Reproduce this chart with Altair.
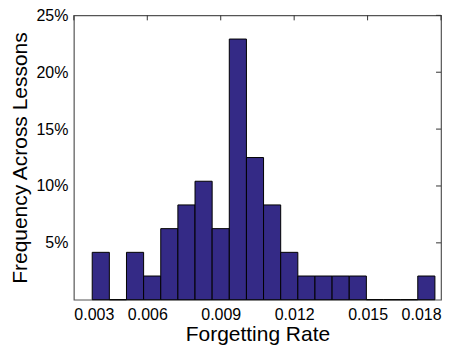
import altair as alt
import pandas as pd

# bin edges (forgetting rate) and counts of lessons per bin (48 lessons)
bin_edges = [0.00375, 0.00445, 0.00515, 0.00585, 0.00655, 0.00725, 0.00795,
             0.00865, 0.00935, 0.01005, 0.01075, 0.01145, 0.01215, 0.01285,
             0.01355, 0.01425, 0.01495, 0.01565, 0.01635, 0.01705, 0.01775]
counts = [2, 0, 2, 1, 3, 4, 5, 3, 11, 6, 4, 2, 1, 1, 1, 1, 0, 0, 0, 1]
total_lessons = 48

x_ticks = [0.003, 0.006, 0.009, 0.012, 0.015, 0.018]
y_ticks = [0.05, 0.10, 0.15, 0.20, 0.25]

df = pd.DataFrame({
    "x0": bin_edges[:-1],
    "x1": bin_edges[1:],
    "freq": [c / total_lessons for c in counts],
})
xt = pd.DataFrame({"t": x_ticks})
yt = pd.DataFrame({"t": y_ticks})

xscale = alt.Scale(domain=[0.003, 0.018], nice=False, zero=False)
yscale = alt.Scale(domain=[0, 0.25], nice=False)

FONT = "Liberation Sans"

bars = alt.Chart(df).mark_rect(
    fill="#342a86", stroke="#000000", strokeWidth=1
).encode(
    x=alt.X("x0:Q", scale=xscale,
            axis=alt.Axis(values=x_ticks, format=".3f", title="Forgetting Rate",
                          tickSize=0, domain=False, grid=False,
                          labelPadding=7, titlePadding=1)),
    x2="x1:Q",
    y=alt.Y("freq:Q", scale=yscale,
            axis=alt.Axis(values=y_ticks, format=".0%",
                          title="Frequency Across Lessons",
                          tickSize=0, domain=False, grid=False,
                          labelPadding=6, titlePadding=5)),
    y2=alt.datum(0),
)

top_ticks = alt.Chart(xt).mark_rule(color="#333333", strokeWidth=1).encode(
    x=alt.X("t:Q", scale=xscale),
    y=alt.value(0),
    y2=alt.value(5),
)
right_ticks = alt.Chart(yt).mark_rule(color="#333333", strokeWidth=1).encode(
    y=alt.Y("t:Q", scale=yscale),
    x=alt.value(363),
    x2=alt.value(368),
)

chart = alt.layer(bars, top_ticks, right_ticks).properties(
    width=368, height=285,
    autosize=alt.AutoSizeParams(type="none"),
    padding={"left": 66, "top": 7, "right": 12, "bottom": 45},
).configure_view(
    stroke="#555555", strokeWidth=1.2
).configure_axis(
    labelFont=FONT, titleFont=FONT, labelFontSize=16, titleFontSize=21,
    titleFontWeight="normal", labelColor="#000000", titleColor="#000000",
)

chart.save("out.html", embed_options={"renderer": "svg", "actions": False})
